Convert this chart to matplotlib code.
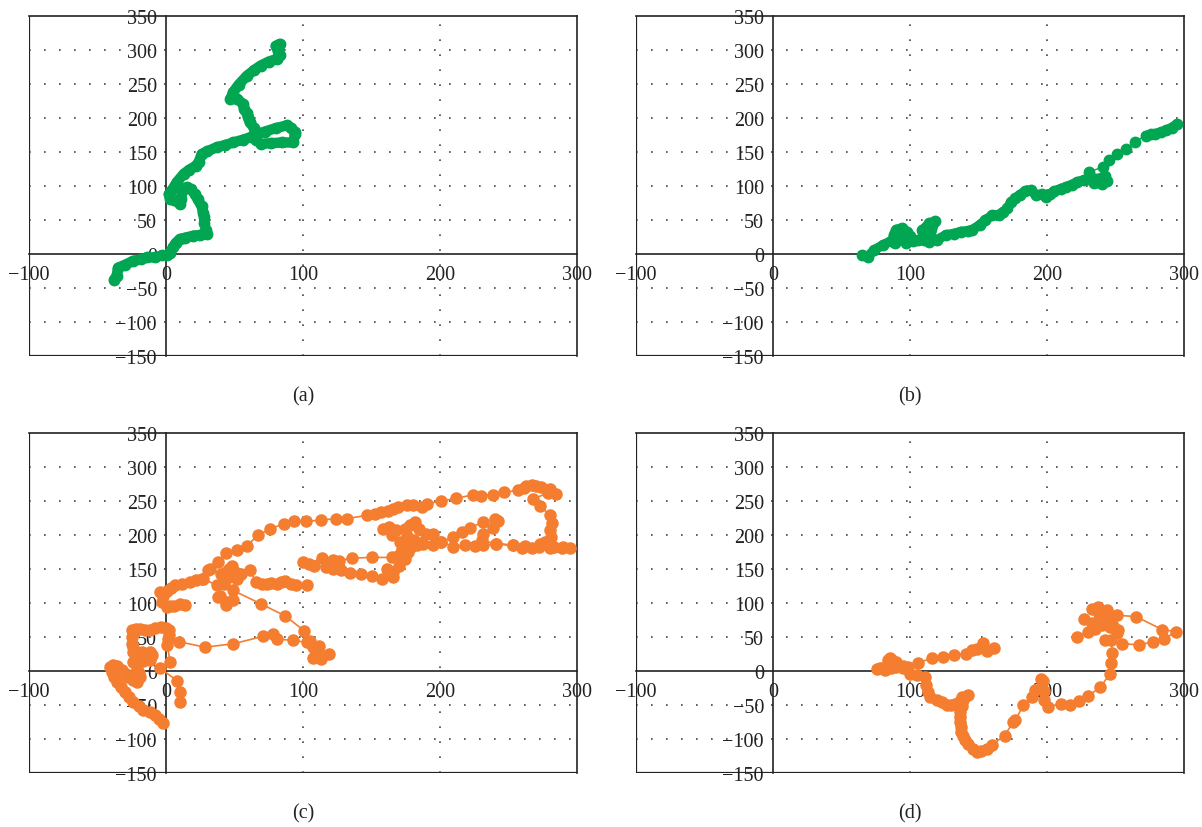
import numpy as np
import matplotlib
matplotlib.use("Agg")
import matplotlib.pyplot as plt

### Datos ###
# (a) trayectoria verde
a_x = [-38, -36, -35, -30, -24, -18, -14, -8, -3, 0.5, 3, 5, 7, 10, 14, 20, 25, 30, 29, 28, 28, 27, 26, 23, 21, 18, 15, 12,
       11, 10, 6, 3, 2, 4, 8, 13, 17, 22, 24, 26, 30, 37, 43, 49, 56, 62, 66, 72, 80, 88, 91, 94, 94, 93, 85, 77, 69, 66,
       66, 64, 61, 60, 59, 57, 56, 52, 47, 49, 53, 59, 64, 69, 75, 81, 83, 82, 80, 83, 82]
a_y = [-38, -32, -20, -16, -10, -8, -5, -5, -2, -2, 2, 10, 16, 22, 24, 27, 28, 29, 36, 45, 55, 61, 70, 81, 88, 96, 98, 92,
       81, 74, 79, 81, 88, 93, 106, 118, 124, 130, 136, 147, 151, 157, 160, 164, 168, 172, 176, 180, 185, 189, 186, 180,
       176, 164, 164, 163, 162, 168, 174, 186, 194, 201, 207, 213, 221, 228, 228, 238, 249, 262, 270, 277, 283, 287, 292,
       298, 306, 309, 303]

# (b) trayectoria verde
b_x = [65, 69, 74, 80, 86, 89, 88, 90, 94, 98, 100, 95, 92, 97, 102, 106, 110, 109, 114, 118, 114, 120, 126, 132, 137,
       142, 145, 151, 155, 160, 165, 168, 171, 174, 177, 180, 184, 188, 192, 196, 199, 202, 205, 210, 214, 218, 222, 227,
       231, 236, 240, 244, 242, 236, 234, 231, 241, 245, 251, 258, 264, 272, 276, 279, 283, 287, 291, 295]
b_y = [-1.5, -4, 6, 13, 19, 16, 28, 36, 38, 33, 26, 23, 30, 16, 19, 21, 20, 35, 45, 48, 18, 21, 28, 30, 33, 34, 35, 43,
       50, 57, 58, 62, 67, 77, 82, 87, 92, 94, 87, 88, 84, 88, 92, 96, 99, 102, 106, 109, 111, 106, 103, 108, 114, 110,
       104, 121, 128, 138, 147, 155, 165, 174, 176, 177, 179, 182, 186, 191]
b_ralo = (56, 61)   # tramo con puntos separados

# (c) trayectoria naranja (nan = corte)
c_x = [-2.4, -5, -8, -12, -16.5, -20, -24, -27, -30, -33, -36, -38, -39.6, -41, -39, -36, -32, -29, -27.5, -24, -21, -19,
       -20, -21, -24, -22, -17, -11.7, -10.5, -11.7, -17.7, -24, -24, -25, -25, -25, -22, -19, -15, -12, -8, -4, 0, 2,
       2, 1.7, 1, 3, -4.4, 8, 10, 10, np.nan,
       9.7, 28.5, 49, 71, 78, 81, 92.5, 102.7, 107, 112, 107.5, 113, 119, 111, 105, 100.7, 87, 69, 49, 44, 38, 44, 49,
       39.4, 37, 27, 32, 40, 44, 48, 46, 50, 46, 42, 51.6, 55, 61, 66, 70, 73.5, 77, 80.8, 84, 87, 91, 95, 102.7, np.nan,
       14, 10, 6, 3, 0.5, -3, -4.4, -2, 0.5, 4, 6.6, 12, 17.5, 22, 26, 31, 38, 44, 52, 59, 67, 76, 86, 93.7, 102, 113,
       124, 132, 146.5, 152.5, 157, 162, 166, 169.6, 175.7, 180, 186.6, 190.7, 201, 212, 224, 230, 239, 247, 257, 261,
       263, 267, 270, 274, 280, 285, 279, 268, 273, 280, 282, 280, 281, 276.6, 273, 280, 289, 295, 283, 267, 259.6,
       253.5, 241, 231, 231.6, 239, 242.6, 240, 231.6, 222, 215.7, 209.7, 201, 195, 190, 185, 181.8, 178, 174.5, 168,
       163, 158.6, 165, 171, 176, 181, 185, 178, 172, 176.6, 174.5, 170, 166, 161, 166, 158, 150.6, 142, 134.6, 128,
       122, 117, 108, 100, 104.6,
       114, 122, 126.5, 135.8, 150, 164.7, 170, 174.5, 179, 183, 187.6, 195, 201, 209.7, 218, 225.5, 231.6, 241, 253.5,
       262, 272, 282, 290]
c_y = [-76, -70, -65, -61, -58, -52, -45, -38, -31, -24, -16, -9, -1.5, 6, 9, 8, 1, -4, -9, -13, -16, -9, -3, 3, 13, 18,
       14, 16, 23, 28, 28, 28, 35, 40, 50, 60, 62, 62, 61, 60, 63, 65, 63, 60, 53, 47, 38, 13, 4, -14, -31, -45, np.nan,
       43, 35, 40, 51, 55, 47, 45, 42, 35, 37, 19.5, 17, 25, 33, 44, 59.5, 81, 99, 118.5, 101, 109, 96.6, 104, 111, 126,
       136, 150, 143, 145.6, 155, 150, 145, 138, 128, 136, 142, 148, 131, 128, 128, 130, 128, 131, 133, 128, 127, 127,
       np.nan,
       97.5, 99, 96, 96, 94, 101, 116, 110, 118, 122, 126, 128, 131, 134, 136, 148, 160, 173.5, 178, 184, 199.5, 209,
       216.5, 220, 220, 222, 224, 224, 229, 231, 234, 236, 238, 241, 243.5, 244, 241, 246, 250, 254, 259, 258, 259, 263,
       265.5, 269, 272, 274, 272, 270, 267, 261, 262, 253, 243, 229, 218, 207, 197, 190, 187, 181, 181.5, 181, 183,
       181, 181, 185, 187, 192, 202, 210, 221, 223, 219, 211, 204, 197, 190, 202, 202, 209, 219, 214, 209, 207, 212,
       209, 200, 190, 198, 192, 188, 184, 180, 175, 165, 155, 145, 150, 138, 136, 140, 142, 143.5, 148, 150, 153, 155,
       160, 158, 166, 163, 162,
       166, 167, 167, 171, 170, 182.5, 185, 187, 186, 190, 182.5, 185, 184, 185, 187, 185, 184, 183, 183, 182]

# (d) trayectoria naranja, pares (x, y)
d_pts = [(161, 34), (156, 29), (153.5, 41.6), (148.7, 33), (145, 31), (141, 25.5), (132, 24), (124, 21), (115.8, 19),
         (106, 11.8), (98.8, 6), (95, 8), (90, 13), (87, 16), (85.4, 19), (84, 15.6), (80.5, 4.4), (75.7, 3.4),
         (78, 5), (82, 2), (86, 4), (90, 6), (95, 4), (100, -4), (105, -6.5), (111, -9), (112, -21), (113, -31),
         (114.6, -38), (119.5, -43), (123, -46), (126.8, -50.6), (130, -50), (132.8, -48), (135.5, -45), (137.7, -38),
         (142.6, -36), (139, -43), (137.7, -52), (136.5, -60), (136.5, -68), (136.5, -75), (137, -83), (137, -90),
         (139, -96), (140.5, -102), (142.6, -108), (146, -114), (149, -119), (152, -117), (156, -115), (159.6, -109),
         (169, -95), (175.4, -75), (177, -72), (182.7, -50.6), (188.8, -38), (191, -28.5), (195.4, -12.4), (197, -14),
         (198, -30), (198, -43), (200.6, -53), (210, -48), (217, -49.6), (223.5, -44.7), (230, -36.8), (239, -23.6),
         (246, -4), (246.5, 12), (247.6, 27), (247, 45), (242.4, 45), (255, 40), (267, 38.7), (277.5, 42.6),
         (285.4, 46.5), (294, 58), (284, 61), (265, 80), (251, 82), (247, 78), (243, 70), (248, 66), (252, 60),
         (245, 72), (240, 82), (246, 64), (251, 56), (243.6, 89), (237.5, 94), (232.5, 91.6), (238, 84), (244, 75),
         (240, 68), (235, 62), (227, 77), (233, 70), (230, 58), (222, 50)]
d_x = [p[0] for p in d_pts]
d_y = [p[1] for p in d_pts]

x_ticks = [-100, 0, 100, 200, 300]
y_ticks = [-150, -100, -50, 0, 50, 100, 150, 200, 250, 300, 350]
etiquetas = ['(a)', '(b)', '(c)', '(d)']

verde = '#00a651'
naranja = '#f47d30'

plt.rcParams['font.family'] = ['Liberation Serif', 'DejaVu Serif']
plt.rcParams['axes.unicode_minus'] = True

fig = plt.figure(figsize=(12.02, 8.28), dpi=100)
W, H = 1202.0, 828.0
cajas = [(29, 17), (636, 17), (29, 434), (636, 434)]
ancho, alto = 548, 340


def preparar(ax):
    ax.set_xlim(-100, 300)
    ax.set_ylim(-150, 350)
    # grilla punteada
    for yv in [-100, -50, 50, 100, 150, 200, 250, 300]:
        ax.axhline(yv, color='#444444', lw=1.2, ls=(0, (1, 8)), zorder=1)
    for xv in [100, 200]:
        ax.axvline(xv, color='#444444', lw=1.2, ls=(0, (1, 8)), zorder=1)
    # ejes que pasan por cero
    ax.spines['left'].set_position(('data', 0))
    ax.spines['bottom'].set_position(('data', 0))
    for s in ax.spines.values():
        s.set_color('#222222')
        s.set_linewidth(1.2)
    # marco
    ax.axvline(-100, color='#222222', lw=1.6, zorder=2.5)
    ax.axhline(-150, color='#222222', lw=1.6, zorder=2.5)
    ax.set_xticks(x_ticks)
    ax.set_yticks(y_ticks)
    ax.tick_params(axis='both', length=0, labelsize=14.5, colors='#222222')
    ax.tick_params(axis='y', pad=6.5)
    ax.tick_params(axis='x', pad=8)


ejes = []
for (px, py), lab in zip(cajas, etiquetas):
    ax = fig.add_axes([px / W, 1 - (py + alto) / H, ancho / W, alto / H])
    preparar(ax)
    ejes.append(ax)
    fig.text((px + ancho / 2) / W, 1 - (py + alto + 40) / H, lab, ha='center', va='center', fontsize=14.5,
             color='#222222')

# (a)
ax = ejes[0]
ax.plot(a_x, a_y, '-', color=verde, lw=7.5, solid_capstyle='round', solid_joinstyle='round', zorder=3)
ax.plot(a_x, a_y, 'o', color=verde, ms=7.5, zorder=3)

# (b)
ax = ejes[1]
i0, i1 = b_ralo
ax.plot(b_x[:i0], b_y[:i0], '-', color=verde, lw=7, solid_capstyle='round', solid_joinstyle='round', zorder=3)
ax.plot(b_x[i1:], b_y[i1:], '-', color=verde, lw=7, solid_capstyle='round', solid_joinstyle='round', zorder=3)
ax.plot(b_x, b_y, '-o', color=verde, lw=1, ms=7.5, zorder=3)

# (c)
ax = ejes[2]
ax.plot(c_x, c_y, '-o', color=naranja, lw=1.2, ms=8, zorder=3)

# (d)
ax = ejes[3]
ax.plot(d_x, d_y, '-o', color=naranja, lw=1.2, ms=8, zorder=3)

fig.savefig('out.png', dpi=100)
